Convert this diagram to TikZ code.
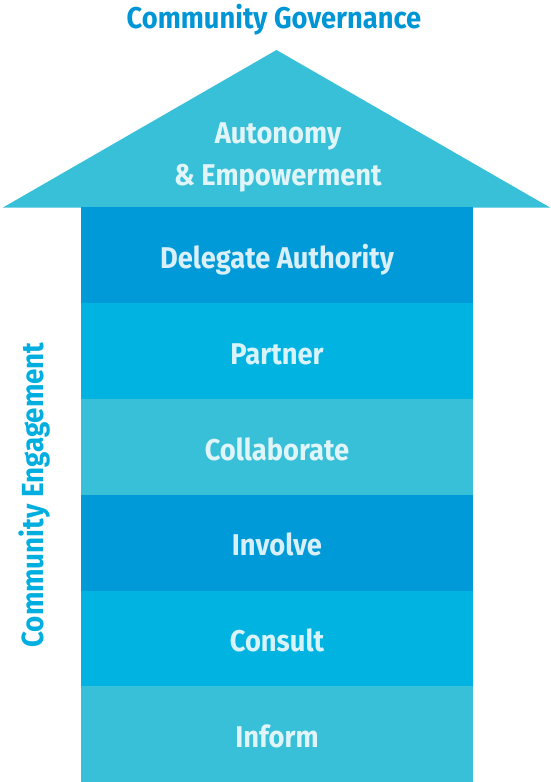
\documentclass[tikz,border=0pt]{standalone}
\usepackage{fontspec}
\setmainfont[FakeStretch=0.91]{Fira Sans}
\definecolor{lightband}{HTML}{38C0D8}
\definecolor{midband}{HTML}{00B3E0}
\definecolor{darkband}{HTML}{009AD8}
\definecolor{titleblue}{HTML}{0096D6}
\definecolor{sideblue}{HTML}{00AEDF}
\tikzset{
  band/.style={minimum width=392pt, minimum height=96.83pt, inner sep=0pt,
    anchor=north, text height=25.5pt, text depth=0pt,
    font=\fontsize{30}{36}\selectfont\bfseries, text=white, text opacity=0.85},
  roofword/.style={anchor=base, inner sep=0pt,
    font=\fontsize{30}{36}\selectfont\bfseries, text=white, text opacity=0.85},
  heading/.style={inner sep=0pt, font=\fontsize{30}{36}\selectfont\bfseries}
}
\begin{document}
\begin{tikzpicture}[x=1pt, y=-1pt]
\useasboundingbox (0,0) rectangle (551,782);
% roof of the arrow
\coordinate (apex) at (276.5,50);
\coordinate (baseL) at (3,207.5);
\coordinate (baseR) at (550,207.5);
\fill[lightband] (baseL) -- (apex) -- (baseR) -- cycle;
\node[roofword] (autonomy) at (278,143) {Autonomy};
\node[roofword] (empower) at (278,185) {\& Empowerment};
% stacked levels of the stem, each overlapping the next by 1pt
\node[band, fill=darkband]  (delegate) at (277,207)    {Delegate Authority};
\node[band, fill=midband]   (partner)  at (277,302.83) {Partner};
\node[band, fill=lightband] (collab)   at (277,398.66) {Collaborate};
\node[band, fill=darkband]  (involve)  at (277,494.49) {Involve};
\node[band, fill=midband]   (consult)  at (277,590.32) {Consult};
\node[band, fill=lightband] (inform)   at (277,686.15) {Inform};
% headings
\node[heading, text=titleblue, anchor=base] (gov) at (274,28) {Community Governance};
\node[heading, text=sideblue, anchor=base, rotate=90,
      font=\fontsize{30.5}{36}\selectfont\bfseries] (eng) at (43.5,495) {Community Engagement};
\end{tikzpicture}
\end{document}
